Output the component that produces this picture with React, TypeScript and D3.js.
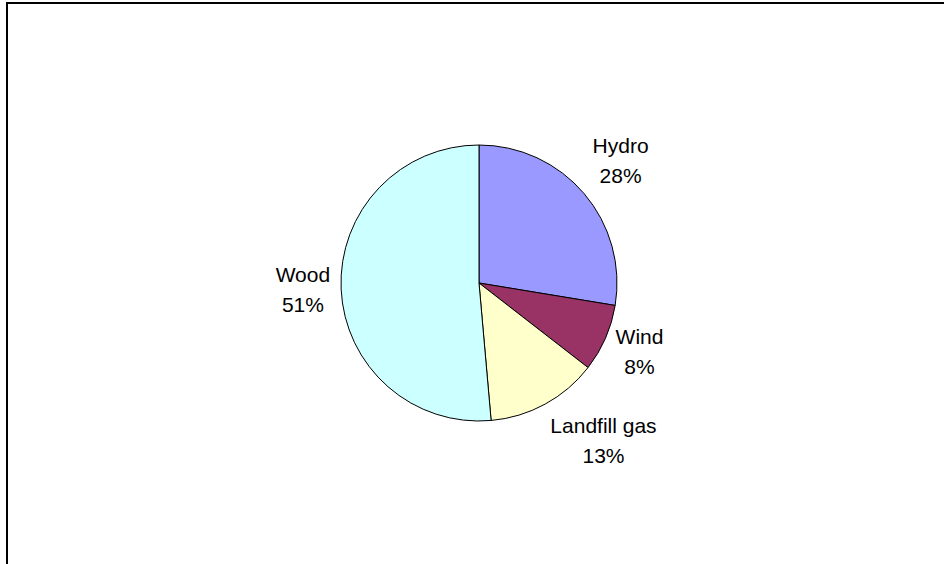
import { useEffect, useRef } from "react";
import * as d3 from "d3";

const categories = ["Hydro", "Wind", "Landfill gas", "Wood"];
const shares = [27.6, 7.9, 13.1, 51.4];
const sliceColors = ["#9999FF", "#993366", "#FFFFCC", "#CCFFFF"];

const W = 944;
const H = 564;

const App = () => {
  const svgRef = useRef<SVGSVGElement | null>(null);

  useEffect(() => {
    const svg = d3.select(svgRef.current);
    svg.selectAll("*").remove();

    const cx = 479;
    const cy = 283;
    const radius = 138;
    const labelRadius = 149;
    const lineGap = 30;

    // chart frame (right and bottom edges fall outside the window)
    svg
      .append("rect")
      .attr("x", 7)
      .attr("y", 3)
      .attr("width", W + 20)
      .attr("height", H + 20)
      .attr("fill", "white")
      .attr("stroke", "black")
      .attr("stroke-width", 2);

    const data = categories.map((c, i) => ({ name: c, value: shares[i], color: sliceColors[i] }));
    const total = d3.sum(shares);

    const pie = d3
      .pie<(typeof data)[number]>()
      .value((d) => d.value)
      .sort(null);
    const arc = d3.arc<d3.PieArcDatum<(typeof data)[number]>>().innerRadius(0).outerRadius(radius);

    const g = svg.append("g").attr("transform", `translate(${cx},${cy})`);
    const arcs = pie(data);

    g.selectAll("path")
      .data(arcs)
      .join("path")
      .attr("d", arc)
      .attr("fill", (d) => d.data.color)
      .attr("stroke", "black")
      .attr("stroke-width", 1);

    // labels: nearest corner (or side middle near 3/9 o'clock) sits on the label radius
    const clamp = (v: number) => Math.max(-1, Math.min(1, v));
    arcs.forEach((a) => {
      const mid = (a.startAngle + a.endAngle) / 2;
      const s = Math.sin(mid);
      const c = Math.cos(mid);
      const ax = labelRadius * s;
      const ay = -labelRadius * c;

      const t = g
        .append("text")
        .attr("font-family", "'Liberation Sans', Arial, sans-serif")
        .attr("font-size", 21)
        .attr("fill", "black")
        .attr("text-anchor", "middle");
      t.append("tspan").attr("x", 0).attr("dy", 0).text(a.data.name);
      t.append("tspan")
        .attr("x", 0)
        .attr("dy", lineGap)
        .text(`${Math.round((a.data.value / total) * 100)}%`);

      const bb = (t.node() as SVGTextElement).getBBox();
      const w = bb.width;
      const h = bb.height;
      const fx = clamp(s * 3);
      const fy = Math.sign(c) * Math.max(0, Math.min(1, (Math.abs(c) - 0.3) / 0.3));
      const bx = ax + (w / 2) * fx;
      const by = ay - (h / 2) * fy;
      const ox = bx - (bb.x + w / 2);
      const oy = by - (bb.y + h / 2);
      t.attr("transform", `translate(${ox},${oy})`);
    });
  }, []);

  return (
    <svg
      ref={svgRef}
      width={W}
      height={H}
      style={{ position: "absolute", left: 0, top: 0, background: "white" }}
    />
  );
};

export default App;
